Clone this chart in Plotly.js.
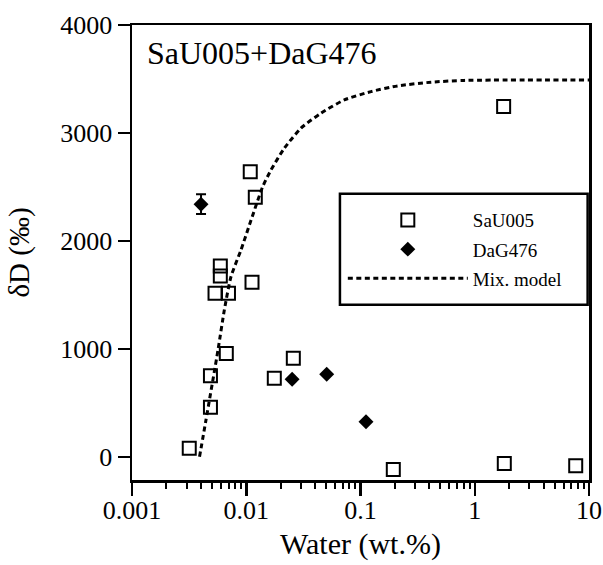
<!DOCTYPE html>
<html>
<head>
<meta charset="utf-8">
<script src="https://cdn.plot.ly/plotly-3.0.1.min.js"></script>
<style>html,body{margin:0;padding:0;background:#fff;}#chart{width:603px;height:565px;}</style>
</head>
<body>
<div id="chart"></div>
<script>
// SaU005 (open squares)
const waterSaU = [0.01084, 0.0120, 0.00533, 0.00699, 0.01123, 0.00669, 0.00486, 0.00486, 0.00317, 0.0176, 0.02582, 0.1937, 1.814, 7.65, 1.79, 0.00593, 0.00593];
const dDSaU    = [2641, 2404, 1514, 1514, 1616, 958, 751, 458, 78, 727, 912, -117, -61, -83, 3244, 1767, 1675];
// DaG476 (filled diamonds)
const waterDaG = [0.00402, 0.0252, 0.0506, 0.1117];
const dDDaG    = [2340, 718, 764, 324];
const errDaG   = [92, 0, 0, 0];
// Mixing model curve
const waterModel = [0.0039, 0.00444, 0.00566, 0.00643, 0.00735, 0.00899, 0.01393, 0.01647, 0.02153, 0.03013, 0.04508, 0.07211, 0.1236, 0.2116, 0.414, 0.811, 10];
const dDModel    = [0, 340, 990, 1360, 1668, 1916, 2502, 2657, 2858, 3044, 3183, 3306, 3383, 3436, 3470, 3487, 3490];
// Ticks
const xTickVals = [0.001, 0.01, 0.1, 1, 10];
const xTickText = ["0.001", "0.01", "0.1", "1", "10"];
const yTickVals = [0, 1000, 2000, 3000, 4000];
const yTickText = ["0", "1000", "2000", "3000", "4000"];

// minor tick positions (2..9 within each decade)
const xMinorVals = [];
for (let e = -3; e < 1; e++) {
  for (let m = 2; m <= 9; m++) xMinorVals.push(m * Math.pow(10, e));
}

const serif = "Liberation Serif, Times New Roman, serif";

const traces = [
  {
    x: waterSaU, y: dDSaU, type: 'scatter', mode: 'markers', name: 'SaU005',
    legendgroup: 'a',
    marker: {symbol: 'square-open', size: 13, color: '#000', line: {color: '#000', width: 2}}
  },
  {
    x: waterDaG, y: dDDaG, type: 'scatter', mode: 'markers', name: 'DaG476',
    legendgroup: 'b',
    marker: {symbol: 'diamond', size: 11.5, color: '#000'},
    error_y: {type: 'data', array: errDaG, visible: true, color: '#000', thickness: 2, width: 5}
  },
  {
    x: waterModel, y: dDModel, type: 'scatter', mode: 'lines', name: 'Mix. model',
    legendgroup: 'c',
    line: {color: '#000', width: 3, dash: '5px,3.5px', shape: 'spline', smoothing: 0.6}
  }
];

const layout = {
  width: 603, height: 565,
  margin: {l: 132, r: 14, t: 25, b: 85},
  paper_bgcolor: '#fff', plot_bgcolor: '#fff',
  font: {family: serif, color: '#000', size: 26},
  showlegend: true,
  legend: {
    x: 0.4613, y: 0.613, xanchor: 'left', yanchor: 'top',
    bgcolor: 'rgba(0,0,0,0)', borderwidth: 0,
    font: {family: serif, size: 19, color: '#000'},
    itemwidth: 120, tracegroupgap: 1.5, traceorder: 'grouped'
  },
  xaxis: {
    type: 'log', range: [-3, 1],
    tickmode: 'array', tickvals: xTickVals, ticktext: xTickText,
    ticks: 'outside', ticklen: 13, tickwidth: 2.5, tickcolor: '#000',
    ticklabelstandoff: -8,
    minor: {tickmode: 'array', tickvals: xMinorVals, ticks: 'outside', ticklen: 6, tickwidth: 2, tickcolor: '#000', showgrid: false},
    showline: true, linewidth: 2.5, linecolor: '#000', mirror: true,
    showgrid: false, zeroline: false,
    tickfont: {family: serif, size: 26, color: '#000'},
    title: {text: 'Water (wt.%)', font: {family: serif, size: 30, color: '#000'}, standoff: 10}
  },
  yaxis: {
    range: [-215, 4000],
    tickmode: 'array', tickvals: yTickVals, ticktext: yTickText,
    ticks: 'outside', ticklen: 12, tickwidth: 2.5, tickcolor: '#000',
    showline: true, linewidth: 2.5, linecolor: '#000', mirror: true,
    showgrid: false, zeroline: false,
    tickfont: {family: serif, size: 26, color: '#000'},
    title: {text: 'δD (‰)', font: {family: serif, size: 29, color: '#000'}, standoff: 22}
  },
  shapes: [
    {type: 'rect', xref: 'paper', yref: 'paper', x0: 0.455, x1: 0.997, y0: 0.385, y1: 0.629,
     line: {color: '#000', width: 2.5}, fillcolor: 'rgba(0,0,0,0)'}
  ],
  annotations: [
    {text: 'SaU005+DaG476', xref: 'paper', yref: 'paper', x: 0.028, y: 0.938,
     xanchor: 'left', yanchor: 'middle', showarrow: false,
     font: {family: serif, size: 32, color: '#000'}}
  ]
};

Plotly.newPlot('chart', traces, layout, {displayModeBar: false, staticPlot: true});
</script>
</body>
</html>
